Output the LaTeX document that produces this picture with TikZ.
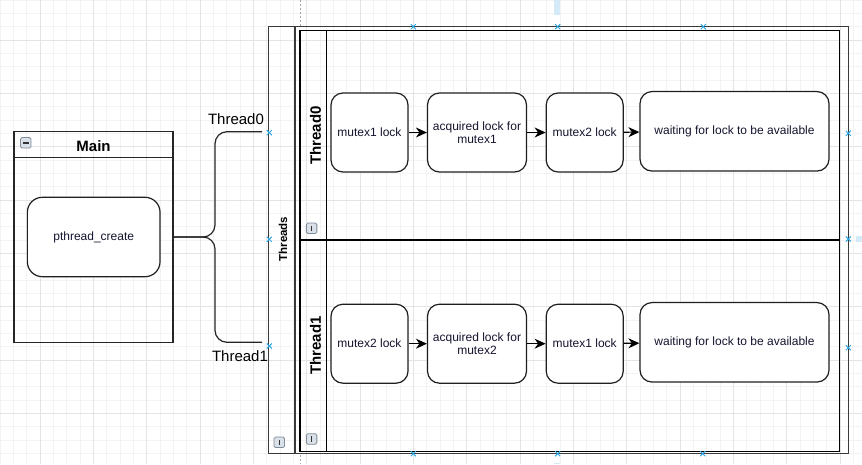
\documentclass[tikz,border=0pt]{standalone}
\usepackage{fontspec}
\setmainfont{Liberation Sans}
\usetikzlibrary{arrows.meta}
\definecolor{minorg}{HTML}{F3F3F3}
\definecolor{majorg}{HTML}{E4E4E4}
\definecolor{poolc}{HTML}{3A3A3A}
\definecolor{handlec}{HTML}{2EA8E6}
\definecolor{hintc}{HTML}{D4EAF7}
\definecolor{icofill}{HTML}{D9E0E8}
\definecolor{icoline}{HTML}{7F8C99}
\definecolor{txt}{HTML}{14142E}
\definecolor{guidec}{HTML}{A8A8A8}
\begin{document}
\begin{tikzpicture}[x=1pt,y=-1pt,
  proc/.style={draw=black!88, line width=1.2pt, rounded corners=12pt, fill=white,
    minimum height=79pt, inner sep=2pt, align=center, text=txt,
    font=\fontsize{12}{12.5}\selectfont},
  arr/.style={line width=1.2pt, -{Stealth[length=11pt,width=10pt,inset=3.5pt]}},
  conn/.style={line width=1.2pt, draw=black!85, rounded corners=12pt},
  icon/.style={draw=icoline, fill=icofill, rounded corners=1.5pt, minimum size=10.5pt,
    inner sep=0pt, line width=0.8pt},
  iconbar/.style={line width=1.4pt, draw=black!80},
  lane/.style={draw=black, line width=1.3pt, inner sep=0pt, minimum width=539.5pt},
  hmark/.style={draw=handlec, line width=1pt},
  bigtxt/.style={font=\fontsize{15}{16}\selectfont},
  bigbold/.style={font=\bfseries\fontsize{15}{16}\selectfont}
]
\useasboundingbox (0,0) rectangle (862,464);
\fill[white] (0,0) rectangle (862,464);
% grid
\foreach \i in {0,...,64} \draw[minorg, line width=0.8pt] (\i*13.3333,0) -- (\i*13.3333,464);
\foreach \j in {0,...,34} \draw[minorg, line width=0.8pt] (0,\j*13.3333) -- (862,\j*13.3333);
\foreach \i in {0,...,15} \draw[majorg, line width=0.9pt] (40+\i*53.3333,0) -- (40+\i*53.3333,464);
\foreach \j in {0,...,7} \draw[majorg, line width=0.9pt] (0,40+\j*53.3333) -- (862,40+\j*53.3333);

% guides and hints
\draw[guidec, line width=0.8pt, dash pattern=on 2pt off 2pt] (300.7,0) -- (300.7,26);
\draw[guidec, line width=0.8pt, dash pattern=on 2pt off 2pt] (300.7,455) -- (300.7,464);
\fill[hintc] (554,0) rectangle (560,15);
\fill[hintc] (856,236) rectangle (862,241.5);
\fill[hintc] (554,462.5) rectangle (560,464);

% Main container
\node[draw=black!85, line width=1.2pt, minimum width=159pt, minimum height=211.4pt, inner sep=0pt] (main) at (93.5,237) {};
\draw[draw=black!85, line width=1.2pt] ([yshift=-26.4pt]main.north west) -- ([yshift=-26.4pt]main.north east);
\node[bigbold] (maintitle) at (93.5,146) {Main};
\node[icon] (mainicon) at (25.8,142.8) {};
\draw[iconbar] ([xshift=-2.8pt]mainicon.center) -- ([xshift=2.8pt]mainicon.center);
\node[proc, minimum width=132.7pt, minimum height=79.4pt, rounded corners=15pt] (pc) at (93.7,237) {pthread\_create};

% Pool
\node[draw=poolc, line width=1.3pt, minimum width=580pt, minimum height=426.6pt, inner sep=0pt] (pool) at (558.3,240) {};
\draw[draw=poolc, line width=1.3pt] (295,26.7) -- (295,453.3);
\node[rotate=90, font=\bfseries\fontsize{11.5}{12}\selectfont] (pooltitle) at (283,239) {Threads};
\node[icon] (poolicon) at (279.3,442.3) {};
\draw[iconbar] ([yshift=-2.8pt]poolicon.center) -- ([yshift=2.8pt]poolicon.center);

% Lanes
\node[lane, minimum height=209.7pt] (lane0) at (569.75,135.15) {};
\node[lane, minimum height=211.3pt] (lane1) at (569.75,345.65) {};
\draw[draw=black, line width=1.3pt] (326.7,30.3) -- (326.7,451.3);
\node[rotate=90, bigbold] (l0title) at (315.5,135.5) {Thread0};
\node[rotate=90, bigbold] (l1title) at (315.5,345.5) {Thread1};
\node[icon] (l0icon) at (311.6,228.3) {};
\draw[iconbar] ([yshift=-2.8pt]l0icon.center) -- ([yshift=2.8pt]l0icon.center);
\node[icon] (l1icon) at (311.6,439) {};
\draw[iconbar] ([yshift=-2.8pt]l1icon.center) -- ([yshift=2.8pt]l1icon.center);

% Lane 0 processes
\node[proc, minimum width=77pt] (a1) at (369.5,132.5) {mutex1 lock};
\node[proc, minimum width=99pt] (a2) at (477,132.5) {acquired lock for\\mutex1};
\node[proc, minimum width=77pt] (a3) at (584.7,132.5) {mutex2 lock};
\node[proc, minimum width=189pt, minimum height=79.5pt] (a4) at (734.5,131.3) {waiting for lock to be available};
\draw[arr] (a1) -- (a2);
\draw[arr] (a2) -- (a3);
\draw[arr] (a3) -- (a4);

% Lane 1 processes
\node[proc, minimum width=77pt] (b1) at (369.5,343.7) {mutex2 lock};
\node[proc, minimum width=99pt] (b2) at (477,343.7) {acquired lock for\\mutex2};
\node[proc, minimum width=77pt] (b3) at (584.7,343.7) {mutex1 lock};
\node[proc, minimum width=189pt, minimum height=79.5pt] (b4) at (734.5,342.3) {waiting for lock to be available};
\draw[arr] (b1) -- (b2);
\draw[arr] (b2) -- (b3);
\draw[arr] (b3) -- (b4);

% Bracket connector
\coordinate (t0end) at (262,131.7);
\coordinate (t1end) at (262,342.3);
\coordinate (fork) at (215,237);
\draw[conn] (main.east) -- (fork) |- (t0end);
\draw[conn] (main.east) -- (fork) |- (t1end);
\node[bigtxt] (t0lab) at (236,119.3) {Thread0};
\node[bigtxt] (t1lab) at (240,355.7) {Thread1};

% handles
\foreach \x/\y in {413.3/26.7, 557.7/26.7, 703.3/26.7, 413.3/453.7, 557.7/453.7, 702.7/453.7,
  269.3/132.7, 269.3/239.3, 269.3/346, 848.3/133.3, 848.3/239, 848.3/347.7} {
  \draw[hmark] (\x-2.5,\y-2.5) -- (\x+2.5,\y+2.5);
  \draw[hmark] (\x-2.5,\y+2.5) -- (\x+2.5,\y-2.5);
}
\end{tikzpicture}
\end{document}
